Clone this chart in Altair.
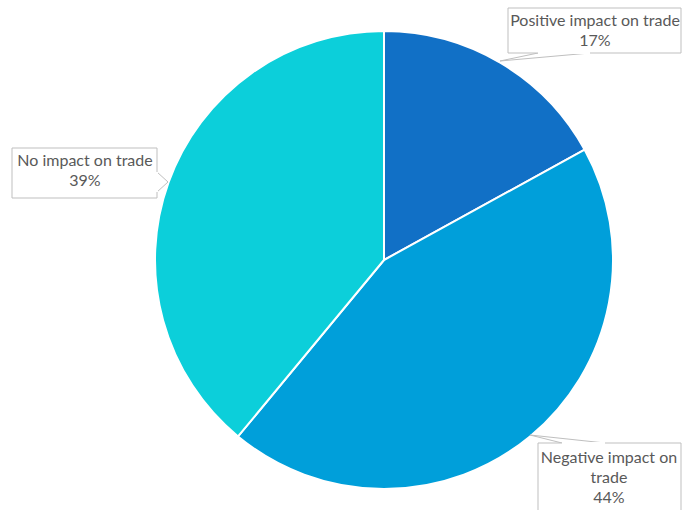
import altair as alt
import pandas as pd

categories = ["Positive impact on trade", "Negative impact on trade", "No impact on trade"]
values = [17, 44, 39]
colors = ["#1170C6", "#009FDA", "#0CCFDA"]

# label text lines per category
label_lines = [
    ["Positive impact on trade", "17%"],
    ["Negative impact on", "trade", "44%"],
    ["No impact on trade", "39%"],
]

# layout (pixel positions) for callouts
label_centers = [(595, 21), (609, 458), (85, 161)]
line_gap = 20
boxes = [(508, 8, 681, 53), (538, 443, 681, 520), (12, 148, 157, 198)]
tails = [
    [(538, 53), (500, 61), (590, 53)],
    [(562, 443), (530, 435), (605, 443)],
    [(157, 172), (168, 182), (157, 192)],
]

pie_df = pd.DataFrame({"category": categories, "value": values, "order": list(range(len(values)))})

pie = alt.Chart(pie_df).mark_arc(x=384, y=260, outerRadius=229, stroke="white", strokeWidth=2).encode(
    theta=alt.Theta("value:Q", stack=True),
    order=alt.Order("order:Q"),
    color=alt.Color("category:N", scale=alt.Scale(domain=categories, range=colors), legend=None),
)

tail_rows = []
for i, pts in enumerate(tails):
    for j, (px, py) in enumerate(pts):
        tail_rows.append({"id": i, "k": j, "px": px, "py": py})
tail_df = pd.DataFrame(tail_rows)
tail = alt.Chart(tail_df).mark_line(color="#BFBFBF", strokeWidth=1).encode(
    x=alt.X("px:Q", scale=None), y=alt.Y("py:Q", scale=None),
    detail="id:N", order="k:Q",
)

box_df = pd.DataFrame([{"x1": b[0], "y1": b[1], "x2": b[2], "y2": b[3]} for b in boxes])
box = alt.Chart(box_df).mark_rect(fill="white", stroke="#BFBFBF", strokeWidth=1).encode(
    x=alt.X("x1:Q", scale=None), x2="x2:Q", y=alt.Y("y1:Q", scale=None), y2="y2:Q",
)

gap_df = pd.DataFrame([{"id": i, "x1": t[0][0], "y1": t[0][1], "x2": t[2][0], "y2": t[2][1]} for i, t in enumerate(tails)])
gap = alt.Chart(gap_df).mark_rule(color="white", strokeWidth=2).encode(
    x=alt.X("x1:Q", scale=None), x2="x2:Q", y=alt.Y("y1:Q", scale=None), y2="y2:Q",
)

text_rows = []
for i, lines in enumerate(label_lines):
    cx, cy = label_centers[i]
    for j, t in enumerate(lines):
        text_rows.append({"t": t, "tx": cx, "ty": cy + j * line_gap})
text_df = pd.DataFrame(text_rows)
text = alt.Chart(text_df).mark_text(font="Lato", fontSize=16, color="#595959", align="center", baseline="middle").encode(
    x=alt.X("tx:Q", scale=None), y=alt.Y("ty:Q", scale=None), text="t:N",
)

chart = alt.layer(pie, tail, box, gap, text).properties(
    width=682, height=510, autosize=alt.AutoSizeParams(type="none"), padding=0,
).configure_view(stroke=None)

chart.save("out.html", embed_options={"renderer": "svg", "actions": False})
